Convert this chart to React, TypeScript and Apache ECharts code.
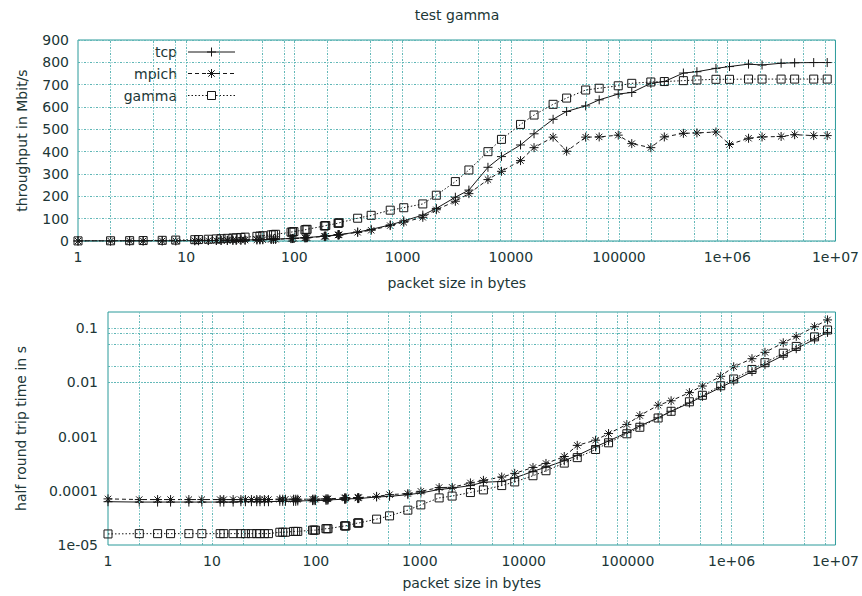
import React, { useEffect, useRef } from 'react';
import * as echarts from 'echarts';

// ---------------- data ----------------
const packetSizes = [
  1, 2, 3, 4, 6, 8, 12, 13, 16, 19, 21, 24, 27, 29, 32, 35,
  45, 48, 51, 61, 64, 67, 93, 96, 99, 125, 128, 131, 189, 192, 195, 253, 256, 259,
  384, 512, 768, 1024, 1536, 2048, 3072, 4096, 6144, 8192, 12288, 16384, 24576, 32768, 49152, 65536,
  98304, 131072, 196608, 262144, 393216, 524288, 786432, 1048576, 1572864, 2097152, 3145728, 4194304, 6291456, 8388608,
];

const tcpThroughput = [
  0.13, 0.26, 0.39, 0.52, 0.77, 1.0, 1.5, 1.7, 2.1, 2.4, 2.7, 3.0, 3.4, 3.7, 4.1, 4.4,
  5.6, 6.0, 6.4, 7.6, 8.0, 8.2, 11.3, 11.6, 12.0, 14.9, 15.3, 15.4, 21.6, 21.9, 22.0, 28.1, 28.4, 28.8,
  40, 52, 72, 90, 116, 146, 196, 228, 330, 378, 430, 480, 545, 580, 605, 632,
  658, 665, 706, 714, 752, 758, 773, 781, 792, 788, 796, 798, 799, 799,
];

const mpichThroughput = [
  0.11, 0.23, 0.35, 0.46, 0.7, 0.93, 1.4, 1.5, 1.9, 2.2, 2.4, 2.8, 3.1, 3.4, 3.7, 4.1,
  5.1, 5.5, 5.8, 7.0, 7.3, 7.7, 10.6, 11.0, 11.3, 14.1, 14.4, 14.8, 20.4, 20.8, 21.1, 27.0, 27.3, 27.6,
  39, 48, 69, 84, 106, 140, 178, 212, 275, 312, 360, 418, 465, 402, 465, 466,
  474, 436, 418, 466, 482, 484, 488, 432, 460, 466, 468, 476, 472, 472,
];

const gammaThroughput = [
  0.5, 1.0, 1.5, 2.0, 3.0, 4.0, 5.9, 6.4, 7.9, 9.4, 10.4, 11.9, 13.3, 14.3, 15.8, 17.3,
  20.9, 22.3, 23.7, 27.4, 28.8, 30.1, 39.6, 40.9, 42.1, 50.0, 51.2, 52.4, 67.2, 68.3, 69.3, 79.4, 80.3, 81.3,
  102, 115, 138, 149, 166, 205, 266, 318, 400, 455, 522, 564, 612, 640, 676, 684,
  695, 706, 712, 714, 718, 721, 724, 724, 725, 725, 725, 725, 725, 725,
];

const tcpLatency = [
  6.3e-5, 6.2e-5, 6.2e-5, 6.2e-5, 6.2e-5, 6.2e-5, 6.2e-5, 6.2e-5, 6.2e-5, 6.3e-5, 6.3e-5, 6.3e-5, 6.3e-5, 6.3e-5, 6.3e-5, 6.3e-5,
  6.4e-5, 6.4e-5, 6.4e-5, 6.4e-5, 6.4e-5, 6.5e-5, 6.6e-5, 6.6e-5, 6.6e-5, 6.7e-5, 6.7e-5, 6.8e-5, 7.0e-5, 7.0e-5, 7.1e-5, 7.2e-5, 7.2e-5, 7.2e-5,
  7.7e-5, 7.9e-5, 8.5e-5, 9.1e-5, 1.06e-4, 1.12e-4, 1.25e-4, 1.44e-4, 1.49e-4, 1.73e-4, 2.29e-4, 2.73e-4, 3.6e-4, 4.5e-4, 6.5e-4, 8.3e-4,
  1.19e-3, 1.58e-3, 2.23e-3, 2.94e-3, 4.18e-3, 5.53e-3, 8.1e-3, 1.07e-2, 1.59e-2, 2.13e-2, 3.16e-2, 4.2e-2, 6.3e-2, 8.4e-2,
];

const mpichLatency = [
  7.1e-5, 6.9e-5, 6.9e-5, 6.9e-5, 6.9e-5, 6.9e-5, 6.9e-5, 6.9e-5, 6.9e-5, 6.9e-5, 6.9e-5, 6.9e-5, 6.9e-5, 6.9e-5, 6.9e-5, 6.9e-5,
  7.0e-5, 7.0e-5, 7.0e-5, 7.0e-5, 7.0e-5, 7.0e-5, 7.0e-5, 7.0e-5, 7.0e-5, 7.1e-5, 7.1e-5, 7.1e-5, 7.4e-5, 7.4e-5, 7.4e-5, 7.5e-5, 7.5e-5, 7.5e-5,
  7.9e-5, 8.5e-5, 8.9e-5, 9.8e-5, 1.15e-4, 1.16e-4, 1.4e-4, 1.56e-4, 1.8e-4, 2.1e-4, 2.7e-4, 3.2e-4, 4.3e-4, 6.9e-4, 8.6e-4, 1.14e-3,
  1.68e-3, 2.45e-3, 3.8e-3, 4.6e-3, 6.5e-3, 8.6e-3, 1.3e-2, 1.95e-2, 2.75e-2, 3.6e-2, 5.4e-2, 7.1e-2, 1.07e-1, 1.43e-1,
];

const gammaLatency = [
  1.6e-5, 1.62e-5, 1.62e-5, 1.62e-5, 1.62e-5, 1.62e-5, 1.62e-5, 1.62e-5, 1.62e-5, 1.62e-5, 1.62e-5, 1.62e-5, 1.62e-5, 1.62e-5, 1.62e-5, 1.62e-5,
  1.72e-5, 1.72e-5, 1.72e-5, 1.78e-5, 1.78e-5, 1.78e-5, 1.88e-5, 1.88e-5, 1.88e-5, 2.0e-5, 2.0e-5, 2.0e-5, 2.25e-5, 2.25e-5, 2.25e-5, 2.55e-5, 2.55e-5, 2.55e-5,
  3.0e-5, 3.45e-5, 4.4e-5, 5.5e-5, 7.4e-5, 8.0e-5, 9.3e-5, 1.04e-4, 1.25e-4, 1.46e-4, 1.9e-4, 2.35e-4, 3.25e-4, 4.1e-4, 5.8e-4, 7.7e-4,
  1.13e-3, 1.49e-3, 2.21e-3, 2.94e-3, 4.4e-3, 5.8e-3, 8.7e-3, 1.16e-2, 1.74e-2, 2.32e-2, 3.47e-2, 4.63e-2, 6.95e-2, 9.3e-2,
];

const seriesNames = ['tcp', 'mpich', 'gamma'];
const xTickLabels = ['1', '10', '100', '1000', '10000', '100000', '1e+06', '1e+07'];
const latencyTickLabels = ['1e-05', '0.0001', '0.001', '0.01', '0.1'];
const gridMultipliers = [1, 2, 5, 8];

// ---------------- styles ----------------
const FONT = 'DejaVu Sans';
const TEXT = '#203636';
const BORDER = '#2a9a9a';
const GRIDC = '#5fb6b6';
const DOT: number[] = [2, 1.5, 1, 1.5];
const INK = '#161616';

const PLUS = 'path://M0,5L10,5M5,0L5,10';
const STAR = 'path://M0,5L10,5M5,0L5,10M1.5,1.5L8.5,8.5M1.5,8.5L8.5,1.5';
const SQUARE = 'path://M0,0L10,0L10,10L0,10Z';

function gridValues(minExp: number, maxExp: number, lo: number, hi: number) {
  const out: number[] = [];
  for (let e = minExp; e <= maxExp; e++) {
    for (const m of gridMultipliers) {
      const v = m * Math.pow(10, e);
      if (v > lo * 1.0001 && v < hi * 0.9999) out.push(v);
    }
  }
  return out;
}

const seriesStyles = [
  { symbol: PLUS, symbolSize: 9, lineType: 'solid' as any, fill: INK },
  { symbol: STAR, symbolSize: 9, lineType: [4, 3] as any, fill: INK },
  { symbol: SQUARE, symbolSize: 8, lineType: [1.5, 2] as any, fill: 'rgba(255,255,255,0)' },
];

function makeSeries(name: string, idx: number, values: number[], axis: number) {
  const st = seriesStyles[idx];
  return {
    name,
    type: 'line',
    xAxisIndex: axis,
    yAxisIndex: axis,
    z: 3 + idx,
    data: packetSizes.map((s, i) => [s, values[i]]),
    symbol: st.symbol,
    symbolSize: st.symbolSize,
    showSymbol: true,
    lineStyle: { color: INK, width: 1, type: st.lineType },
    itemStyle: { color: st.fill, borderColor: INK, borderWidth: 1 },
    emphasis: { disabled: true },
    silent: true,
  };
}

function gridHelper(axis: number, xs: number[], ys: number[]) {
  return {
    type: 'line',
    xAxisIndex: axis,
    yAxisIndex: axis,
    data: [],
    z: 1,
    silent: true,
    markLine: {
      silent: true,
      symbol: ['none', 'none'],
      label: { show: false },
      animation: false,
      lineStyle: { color: GRIDC, width: 1, type: DOT },
      emphasis: { disabled: true },
      data: [...xs.map((v) => ({ xAxis: v })), ...ys.map((v) => ({ yAxis: v }))],
    },
  };
}

function legendGraphic() {
  const els: any[] = [];
  const ys = [52, 73.5, 95.5];
  const textRight = 177;
  const x0 = 188;
  const x1 = 235;
  const mx = 211.5;
  const dashes = [undefined, [4, 3], [1.5, 2]];
  seriesNames.forEach((n, i) => {
    const y = ys[i];
    els.push({
      type: 'text',
      x: textRight,
      y,
      style: { text: n, fill: TEXT, font: `14px "${FONT}"`, textAlign: 'right', textVerticalAlign: 'middle' },
    });
    els.push({
      type: 'line',
      shape: { x1: x0, y1: y, x2: x1, y2: y },
      style: { stroke: INK, lineWidth: 1, lineDash: dashes[i] },
    });
    if (i === 0 || i === 1) {
      els.push({ type: 'line', shape: { x1: mx - 4.5, y1: y, x2: mx + 4.5, y2: y }, style: { stroke: INK, lineWidth: 1 } });
      els.push({ type: 'line', shape: { x1: mx, y1: y - 4.5, x2: mx, y2: y + 4.5 }, style: { stroke: INK, lineWidth: 1 } });
    }
    if (i === 1) {
      els.push({ type: 'line', shape: { x1: mx - 3.2, y1: y - 3.2, x2: mx + 3.2, y2: y + 3.2 }, style: { stroke: INK, lineWidth: 1 } });
      els.push({ type: 'line', shape: { x1: mx - 3.2, y1: y + 3.2, x2: mx + 3.2, y2: y - 3.2 }, style: { stroke: INK, lineWidth: 1 } });
    }
    if (i === 2) {
      els.push({ type: 'rect', shape: { x: mx - 4, y: y - 4, width: 8, height: 8 }, style: { stroke: INK, fill: '#fff', lineWidth: 1 } });
    }
  });
  return els;
}

const axisText = { color: TEXT, fontSize: 14, fontFamily: FONT };

export default function App() {
  const ref = useRef<HTMLDivElement>(null);
  useEffect(() => {
    if (!ref.current) return;
    const chart = echarts.init(ref.current, undefined, { renderer: 'svg' });
    const xGrid = gridValues(0, 6, 1, 1e7);
    const yGridLat = gridValues(-5, -1, 1e-5, 0.2);
    const xAxisCommon = {
      type: 'log',
      logBase: 10,
      min: 1,
      max: 1e7,
      nameLocation: 'middle',
      nameTextStyle: axisText,
      axisLine: { show: false },
      axisTick: { show: false },
      splitLine: { show: false },
      axisLabel: {
        ...axisText,
        margin: 9,
        formatter: (v: number) => xTickLabels[Math.round(Math.log10(v))] ?? '',
      },
    };
    const option: any = {
      animation: false,
      textStyle: { fontFamily: FONT },
      grid: [
        { left: 78, top: 40, width: 759, height: 201, show: true, borderColor: BORDER, borderWidth: 1, backgroundColor: 'transparent' },
        { left: 108, top: 312, width: 729, height: 233, show: true, borderColor: BORDER, borderWidth: 1, backgroundColor: 'transparent' },
      ],
      xAxis: [
        { ...xAxisCommon, gridIndex: 0, name: 'packet size in bytes', nameGap: 35 },
        { ...xAxisCommon, gridIndex: 1, name: 'packet size in bytes', nameGap: 31 },
      ],
      yAxis: [
        {
          gridIndex: 0,
          type: 'value',
          min: 0,
          max: 900,
          interval: 100,
          name: 'throughput in Mbit/s',
          nameLocation: 'middle',
          nameGap: 49,
          nameTextStyle: axisText,
          axisLine: { show: false },
          axisTick: { show: false },
          axisLabel: { ...axisText, margin: 9 },
          splitLine: { show: true, lineStyle: { color: GRIDC, width: 1, type: DOT } },
        },
        {
          gridIndex: 1,
          type: 'log',
          logBase: 10,
          min: 1e-5,
          max: 0.2,
          name: 'half round trip time in s',
          nameLocation: 'middle',
          nameGap: 80,
          nameTextStyle: axisText,
          axisLine: { show: false },
          axisTick: { show: false },
          splitLine: { show: false },
          axisLabel: {
            ...axisText,
            margin: 10,
            showMaxLabel: false,
            formatter: (v: number) => {
              const e = Math.log10(v);
              if (Math.abs(e - Math.round(e)) > 1e-6) return '';
              return latencyTickLabels[Math.round(e) + 5] ?? '';
            },
          },
        },
      ],
      graphic: [
        {
          type: 'text',
          x: 457,
          y: 15,
          style: { text: 'test gamma', fill: TEXT, font: `14px "${FONT}"`, textAlign: 'center', textVerticalAlign: 'middle' },
        },
        ...legendGraphic(),
      ],
      series: [
        gridHelper(0, xGrid, []),
        gridHelper(1, xGrid, yGridLat),
        makeSeries(seriesNames[0], 0, tcpThroughput, 0),
        makeSeries(seriesNames[1], 1, mpichThroughput, 0),
        makeSeries(seriesNames[2], 2, gammaThroughput, 0),
        makeSeries(seriesNames[0], 0, tcpLatency, 1),
        makeSeries(seriesNames[1], 1, mpichLatency, 1),
        makeSeries(seriesNames[2], 2, gammaLatency, 1),
      ],
    };
    chart.setOption(option);
    return () => chart.dispose();
  }, []);
  return <div ref={ref} style={{ position: 'absolute', left: 0, top: 0, width: 862, height: 596, background: '#fff' }} />;
}
